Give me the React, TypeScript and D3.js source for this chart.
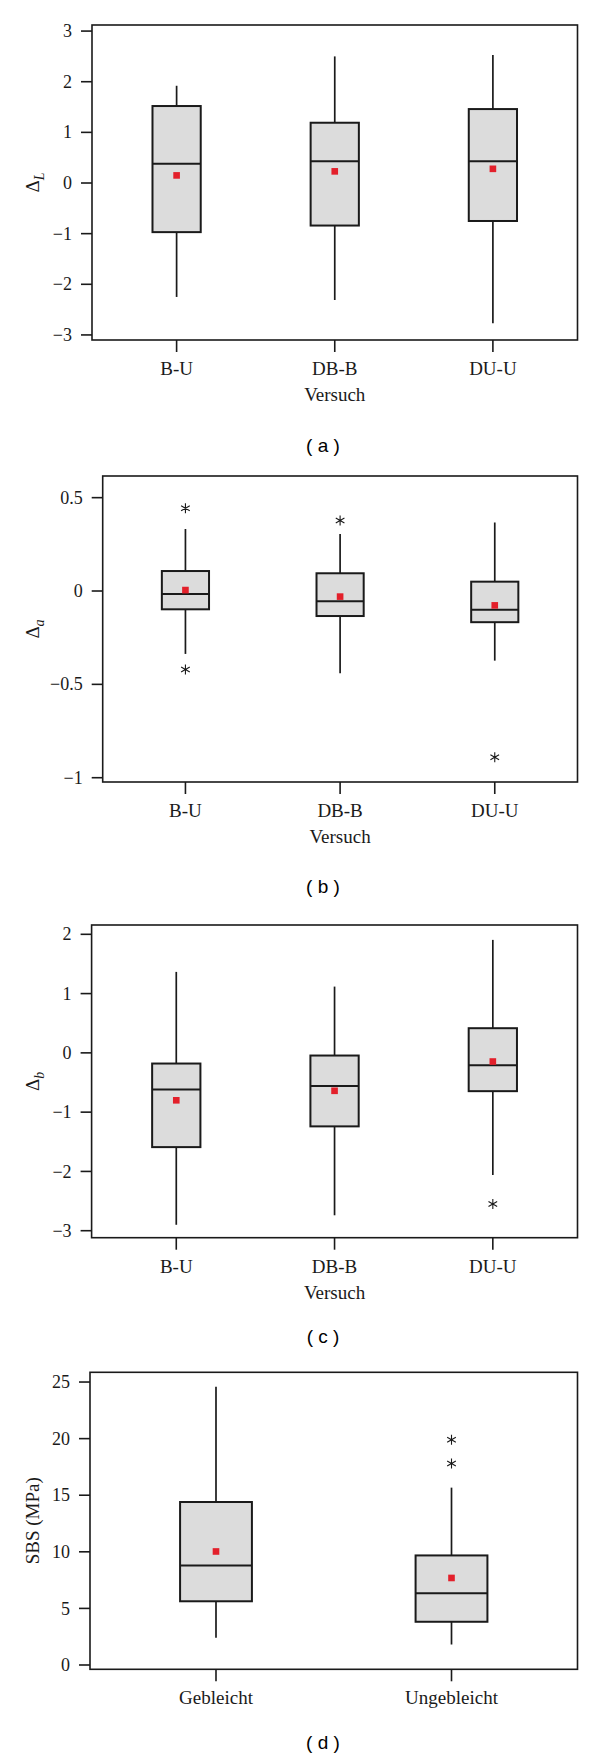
import React from 'react';
import * as d3 from 'd3';

const versuchCats = ['B-U', 'DB-B', 'DU-U'];
const sbsCats = ['Gebleicht', 'Ungebleicht'];

// (a) Delta L
const lowA = [-2.25, -2.31, -2.77];
const q1A = [-0.97, -0.84, -0.75];
const medA = [0.38, 0.43, 0.43];
const q3A = [1.52, 1.19, 1.46];
const highA = [1.92, 2.5, 2.53];
const meanA = [0.15, 0.23, 0.28];
const outA: number[][] = [[], [], []];
const ticksA = [-3, -2, -1, 0, 1, 2, 3];

// (b) Delta a
const lowB = [-0.337, -0.44, -0.373];
const q1B = [-0.098, -0.134, -0.167];
const medB = [-0.016, -0.055, -0.1];
const q3B = [0.107, 0.095, 0.05];
const highB = [0.332, 0.306, 0.367];
const meanB = [0.005, -0.03, -0.077];
const outB = [[0.443, -0.42], [0.378], [-0.89]];
const ticksB = [-1, -0.5, 0, 0.5];

// (c) Delta b
const lowC = [-2.9, -2.74, -2.06];
const q1C = [-1.59, -1.24, -0.646];
const medC = [-0.62, -0.56, -0.21];
const q3C = [-0.18, -0.045, 0.416];
const highC = [1.366, 1.118, 1.906];
const meanC = [-0.8, -0.64, -0.146];
const outC = [[], [], [-2.55]];
const ticksC = [-3, -2, -1, 0, 1, 2];

// (d) SBS
const lowD = [2.4, 1.81];
const q1D = [5.63, 3.82];
const medD = [8.79, 6.33];
const q3D = [14.4, 9.68];
const highD = [24.58, 15.67];
const meanD = [10.03, 7.69];
const outD = [[], [19.9, 17.8]];
const ticksD = [0, 5, 10, 15, 20, 25];

const fmt = d3.format('~g');
const ink = '#1a1a1a';
const serif = '"Liberation Serif", "Times New Roman", serif';
const sans = '"Liberation Sans", Arial, sans-serif';

const asterisk = d3.symbol(d3.symbolAsterisk, 70)();
const square = d3.symbol(d3.symbolSquare, 44)();

function BoxPanel(props: any) {
  const { frame, domain, ticks, cats, low, q1, med, q3, high, mean, outliers, yLabel, xTitle, tag } = props;
  const [x0, x1, y0, y1] = frame;

  const y = d3.scaleLinear().domain(domain).range([y1, y0]);
  const x = d3.scalePoint<string>().domain(cats).range([x0, x1]).padding(0.535);
  const bw = x.step() * 0.305;

  return (
    <g>
      {/* y axis ticks */}
      {ticks.map((t: number) => (
        <g key={t} transform={`translate(0,${y(t)})`}>
          <line x1={x0 - 11} x2={x0} stroke={ink} strokeWidth={1.6} />
          <text x={x0 - 20} dy='0.34em' textAnchor='end' fontFamily={serif} fontSize={18} fill={ink}>
            {fmt(t)}
          </text>
        </g>
      ))}

      {/* x axis ticks */}
      {cats.map((c: string) => (
        <g key={c} transform={`translate(${x(c)},0)`}>
          <line y1={y1} y2={y1 + 12} stroke={ink} strokeWidth={1.6} />
          <text y={y1 + 35} textAnchor='middle' fontFamily={serif} fontSize={19} fill={ink}>
            {c}
          </text>
        </g>
      ))}

      {/* boxes */}
      {cats.map((c: string, i: number) => {
        const cx = x(c) as number;
        return (
          <g key={c}>
            <line x1={cx} x2={cx} y1={y(high[i])} y2={y(q3[i])} stroke={ink} strokeWidth={1.7} />
            <line x1={cx} x2={cx} y1={y(q1[i])} y2={y(low[i])} stroke={ink} strokeWidth={1.7} />
            <rect
              x={cx - bw / 2}
              y={y(q3[i])}
              width={bw}
              height={y(q1[i]) - y(q3[i])}
              fill='#dcdcdc'
              stroke={ink}
              strokeWidth={2}
            />
            <line x1={cx - bw / 2} x2={cx + bw / 2} y1={y(med[i])} y2={y(med[i])} stroke={ink} strokeWidth={2} />
            <path d={square as string} transform={`translate(${cx},${y(mean[i])})`} fill='#e3202b' />
            {outliers[i].map((o: number, j: number) => (
              <path key={j} d={asterisk as string} transform={`translate(${cx},${y(o)})`}
                fill='none' stroke={ink} strokeWidth={1.1} />
            ))}
          </g>
        );
      })}

      {/* frame */}
      <rect x={x0} y={y0} width={x1 - x0} height={y1 - y0} fill='none' stroke={ink} strokeWidth={1.6} />

      {/* y label */}
      <text transform={`translate(33,${(y0 + y1) / 2}) rotate(-90)`} textAnchor='middle' dy='0.3em'
        fontFamily={serif} fontSize={19} fill={ink}>
        {yLabel[0]}
        {yLabel[1] && <tspan fontStyle='italic' fontSize={14} dy={5}>{yLabel[1]}</tspan>}
      </text>

      {xTitle && (
        <text x={(x0 + x1) / 2} y={y1 + 61} textAnchor='middle' fontFamily={serif} fontSize={19} fill={ink}>
          {xTitle}
        </text>
      )}

      <text x={323} y={props.tagY} textAnchor='middle' fontFamily={sans} fontSize={19} fill='#000' xmlSpace='preserve'>
        {tag}
      </text>
    </g>
  );
}

export default function App() {
  return (
    <div style={{ position: 'absolute', left: 0, top: 0 }}>
      <svg width={600} height={1759} style={{ display: 'block', background: '#fff' }}>
        <BoxPanel frame={[92, 577.5, 25, 340]} domain={[-3.1, 3.12]} ticks={ticksA} cats={versuchCats}
          low={lowA} q1={q1A} med={medA} q3={q3A} high={highA} mean={meanA} outliers={outA}
          yLabel={['Δ', 'L']} xTitle='Versuch' tag='( a )' tagY={452} />
        <BoxPanel frame={[102.7, 577.5, 476, 782]} domain={[-1.023, 0.616]} ticks={ticksB} cats={versuchCats}
          low={lowB} q1={q1B} med={medB} q3={q3B} high={highB} mean={meanB} outliers={outB}
          yLabel={['Δ', 'a']} xTitle='Versuch' tag='( b )' tagY={893} />
        <BoxPanel frame={[91.6, 577.5, 925, 1237.7]} domain={[-3.118, 2.157]} ticks={ticksC} cats={versuchCats}
          low={lowC} q1={q1C} med={medC} q3={q3C} high={highC} mean={meanC} outliers={outC}
          yLabel={['Δ', 'b']} xTitle='Versuch' tag='( c )' tagY={1343} />
        <BoxPanel frame={[90, 577.5, 1372.3, 1669.3]} domain={[-0.38, 25.86]} ticks={ticksD} cats={sbsCats}
          low={lowD} q1={q1D} med={medD} q3={q3D} high={highD} mean={meanD} outliers={outD}
          yLabel={['SBS (MPa)']} tag='( d )' tagY={1749} />
      </svg>
    </div>
  );
}
